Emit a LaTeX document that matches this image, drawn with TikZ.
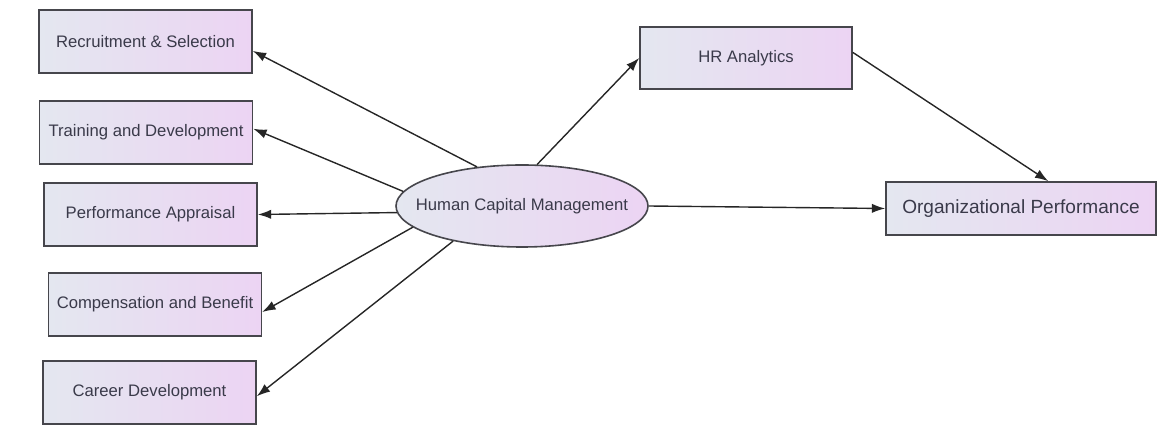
\documentclass[tikz,border=0pt]{standalone}
\usepackage{fontspec}
\setmainfont{Liberation Sans}
\usetikzlibrary{shapes,arrows.meta}
\definecolor{boxleft}{RGB}{228,231,240}
\definecolor{boxright}{RGB}{236,212,243}
\definecolor{boxline}{RGB}{70,70,76}
\definecolor{labeltext}{RGB}{58,58,74}
\tikzstyle{construct} = [rectangle, draw=boxline, line width=1.2pt, left color=boxleft, right color=boxright, text=labeltext, minimum width=159.75pt, minimum height=47.25pt, inner sep=0pt, font=\fontsize{12.5}{14}\selectfont]
\tikzstyle{latent} = [ellipse, draw=boxline, line width=1.2pt, left color=boxleft, right color=boxright, text=labeltext, minimum width=189pt, minimum height=61.5pt, inner xsep=-25pt, inner ysep=0pt, font=\fontsize{12.5}{14}\selectfont]
\tikzstyle{link} = [draw=black!85, line width=1.05pt, -{Latex[length=10pt,width=7pt]}]

\begin{document}
\begin{tikzpicture}[x=0.75pt,y=-0.75pt]
    \useasboundingbox (0,0) rectangle (1160,448);
    \node [latent] (hcm) at (522,206) {Human Capital Management};

    % dimensions of human capital management
    \node [construct] (rs) at (145.5,41.5) {Recruitment \& Selection};
    \node [construct] (td) at (146,132.5) {Training and Development};
    \node [construct] (pa) at (150.5,214.5) {Performance Appraisal};
    \node [construct] (cb) at (155,304.5) {Compensation and Benefit};
    \node [construct] (cd) at (149.5,392.5) {Career Development};

    \node [construct, minimum width=159pt, minimum height=46.5pt] (hra) at (746,58) {HR Analytics};
    \node [construct, minimum width=202.5pt, minimum height=39.75pt, font=\fontsize{14.3}{16}\selectfont] (op) at (1021,208.5) {Organizational Performance};

    \draw[link] (hcm.139) -- (rs.-5);
    \draw[link] (hcm.173) -- (td.2);
    \draw[link] (hcm.183) -- (pa.east);
    \draw[link] (hcm.191) -- (cb.-4);
    \draw[link] (hcm.207) -- (cd.-2);
    \draw[link] (hcm.70) -- (hra.west);
    \draw[link] (hcm.east) -- (op.west);
    \draw[link] (hra.3) -- (op.45);
\end{tikzpicture}
\end{document}
